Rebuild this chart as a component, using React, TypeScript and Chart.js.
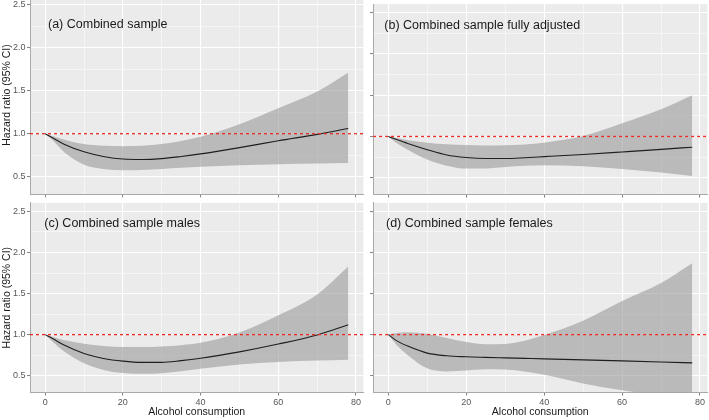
import React, { useEffect, useRef } from "react";
import { Chart, registerables } from "chart.js";

Chart.register(...registerables);

// ---------------- data ----------------
const alcoholConsumption = [0, 2, 5, 10, 15, 20, 25, 30, 35, 40, 50, 60, 70, 78];

const panelTitles = [
  "(a) Combined sample",
  "(b) Combined sample fully adjusted",
  "(c) Combined sample males",
  "(d) Combined sample females",
];

const hrCombined = [1.0, 0.95, 0.875, 0.79, 0.735, 0.705, 0.7, 0.71, 0.735, 0.765, 0.838, 0.918, 0.992, 1.06];
const lowerCombined = [1.0, 0.92, 0.78, 0.64, 0.59, 0.575, 0.578, 0.59, 0.603, 0.615, 0.632, 0.645, 0.654, 0.66];
const upperCombined = [1.0, 0.97, 0.93, 0.88, 0.86, 0.855, 0.86, 0.88, 0.915, 0.965, 1.11, 1.295, 1.49, 1.71];

const hrAdjusted = [1.0, 0.965, 0.915, 0.84, 0.775, 0.745, 0.733, 0.733, 0.742, 0.755, 0.782, 0.812, 0.843, 0.87];
const lowerAdjusted = [1.0, 0.925, 0.84, 0.72, 0.645, 0.61, 0.612, 0.63, 0.645, 0.652, 0.64, 0.605, 0.562, 0.52];
const upperAdjusted = [1.0, 0.98, 0.955, 0.925, 0.905, 0.895, 0.89, 0.893, 0.903, 0.925, 1.005, 1.16, 1.33, 1.5];

const hrMales = [1.0, 0.95, 0.87, 0.77, 0.71, 0.677, 0.662, 0.662, 0.683, 0.712, 0.79, 0.885, 0.995, 1.12];
const lowerMales = [1.0, 0.91, 0.79, 0.65, 0.57, 0.532, 0.522, 0.53, 0.553, 0.585, 0.637, 0.668, 0.685, 0.695];
const upperMales = [1.0, 0.97, 0.93, 0.89, 0.862, 0.85, 0.848, 0.855, 0.872, 0.9, 1.025, 1.235, 1.49, 1.83];

const hrFemales = [1.0, 0.93, 0.86, 0.775, 0.742, 0.73, 0.723, 0.717, 0.711, 0.705, 0.692, 0.68, 0.667, 0.656];
const lowerFemales = [1.0, 0.88, 0.75, 0.59, 0.552, 0.563, 0.577, 0.574, 0.552, 0.51, 0.405, 0.322, 0.262, 0.22];
const upperFemales = [1.0, 1.02, 1.03, 1.012, 0.96, 0.91, 0.882, 0.886, 0.925, 0.995, 1.17, 1.41, 1.63, 1.87];

const referenceHR = 1;

const xGridValues = [0, 10, 20, 30, 40, 50, 60, 70, 80];
const xTickLabels = [0, 20, 40, 60, 80];
const yGridValues = [0.5, 0.75, 1, 1.25, 1.5, 1.75, 2, 2.25, 2.5];
const yTickLabels = [0.5, 1, 1.5, 2, 2.5];

const xAxisTitle = "Alcohol consumption";
const yAxisTitle = "Hazard ratio (95% CI)";

const X_MIN = -3.9;
const X_MAX = 81.9;
const Y_MIN = 0.295;
const Y_MAX = 2.605;

// ---------------- layout / style ----------------
const FONT = "'Liberation Sans', Arial, Helvetica, sans-serif";

type Rect = { x: number; y: number; w: number; h: number };
type Area = { l: number; t: number; r: number; b: number };

interface PanelSpec {
  titleIndex: number;
  hr: number[];
  lo: number[];
  hi: number[];
  canvas: Rect;
  area: Area;
  showYLabels: boolean;
  showXLabels: boolean;
  titleOffset: { dx: number; dy: number };
}

const PANELS: PanelSpec[] = [
  {
    titleIndex: 0, hr: hrCombined, lo: lowerCombined, hi: upperCombined,
    canvas: { x: 0, y: -6, w: 366, h: 206 },
    area: { l: 30, t: -4.3, r: 363.4, b: 194.3 },
    showYLabels: true, showXLabels: false,
    titleOffset: { dx: 18, dy: 29.3 },
  },
  {
    titleIndex: 1, hr: hrAdjusted, lo: lowerAdjusted, hi: upperAdjusted,
    canvas: { x: 355, y: 0, w: 354, h: 200 },
    area: { l: 373.1, t: 4.1, r: 707.4, b: 194.6 },
    showYLabels: false, showXLabels: false,
    titleOffset: { dx: 11.2, dy: 21.6 },
  },
  {
    titleIndex: 2, hr: hrMales, lo: lowerMales, hi: upperMales,
    canvas: { x: 0, y: 198, w: 366, h: 222 },
    area: { l: 30, t: 202.85, r: 363.4, b: 392.5 },
    showYLabels: true, showXLabels: true,
    titleOffset: { dx: 14.3, dy: 21.1 },
  },
  {
    titleIndex: 3, hr: hrFemales, lo: lowerFemales, hi: upperFemales,
    canvas: { x: 355, y: 198, w: 354, h: 222 },
    area: { l: 373.1, t: 202.85, r: 707.4, b: 392.5 },
    showYLabels: false, showXLabels: true,
    titleOffset: { dx: 12.9, dy: 20.4 },
  },
];

const panelBackground = {
  id: "panelBackground",
  beforeDraw(chart: any) {
    const { ctx, chartArea } = chart;
    if (!chartArea) return;
    ctx.save();
    ctx.fillStyle = "#EBEBEB";
    ctx.fillRect(chartArea.left, chartArea.top, chartArea.right - chartArea.left, chartArea.bottom - chartArea.top);
    ctx.restore();
  },
};

const panelLabel = {
  id: "panelLabel",
  afterDraw(chart: any, _args: any, opts: any) {
    const { ctx, chartArea } = chart;
    if (!chartArea || !opts || !opts.text) return;
    ctx.save();
    ctx.font = `12.5px ${FONT}`;
    ctx.fillStyle = "#1A1A1A";
    ctx.textAlign = "left";
    ctx.textBaseline = "middle";
    ctx.fillText(opts.text, chartArea.left + opts.dx, chartArea.top + opts.dy);
    ctx.restore();
  },
};

function makeConfig(p: PanelSpec): any {
  const yW = p.area.l - p.canvas.x;
  const xH = p.canvas.y + p.canvas.h - p.area.b;
  const padTop = p.area.t - p.canvas.y;
  const padRight = p.canvas.x + p.canvas.w - p.area.r;
  const pts = (ys: number[]) => alcoholConsumption.map((x, i) => ({ x, y: ys[i] }));
  const zeroPad = (s: any) => {
    s.paddingLeft = 0;
    s.paddingRight = 0;
    s.paddingTop = 0;
    s.paddingBottom = 0;
  };

  return {
    type: "line",
    data: {
      datasets: [
        {
          data: [{ x: X_MIN, y: referenceHR }, { x: X_MAX, y: referenceHR }],
          borderColor: "#EE2A22",
          borderWidth: 1.3,
          borderDash: [3, 3],
          pointRadius: 0,
          fill: false,
          order: 0,
        },
        {
          data: pts(p.hr),
          borderColor: "#1E1E1E",
          borderWidth: 1.1,
          pointRadius: 0,
          cubicInterpolationMode: "monotone",
          fill: false,
          order: 1,
        },
        {
          data: pts(p.lo),
          borderColor: "rgba(0,0,0,0)",
          borderWidth: 0,
          pointRadius: 0,
          cubicInterpolationMode: "monotone",
          fill: false,
          order: 2,
        },
        {
          data: pts(p.hi),
          borderColor: "rgba(0,0,0,0)",
          borderWidth: 0,
          backgroundColor: "rgba(150,150,150,0.58)",
          pointRadius: 0,
          cubicInterpolationMode: "monotone",
          fill: "-1",
          order: 3,
        },
      ],
    },
    options: {
      responsive: false,
      animation: false,
      events: [],
      layout: { padding: { top: padTop, right: padRight, left: 0, bottom: 0 } },
      plugins: {
        legend: { display: false },
        tooltip: { enabled: false },
        panelLabel: { text: panelTitles[p.titleIndex], dx: p.titleOffset.dx, dy: p.titleOffset.dy },
      },
      scales: {
        x: {
          type: "linear",
          min: X_MIN,
          max: X_MAX,
          afterBuildTicks: (s: any) => {
            s.ticks = xGridValues.map((v) => ({ value: v }));
          },
          afterFit: (s: any) => {
            s.height = xH;
            zeroPad(s);
          },
          grid: {
            color: "#FFFFFF",
            lineWidth: (c: any) => (c.tick && xTickLabels.includes(c.tick.value) ? 1.1 : 0.5),
            drawTicks: true,
            tickLength: 3,
            tickWidth: 1,
            tickColor: (c: any) => (c.tick && xTickLabels.includes(c.tick.value) ? "#7F7F7F" : "rgba(0,0,0,0)"),
          },
          border: { display: true, color: "#A9A9A9", width: 1 },
          ticks: {
            autoSkip: false,
            maxRotation: 0,
            minRotation: 0,
            padding: 2,
            color: "#575757",
            font: { family: FONT, size: 9 },
            callback: (v: any) => (p.showXLabels && xTickLabels.includes(v) ? String(v) : ""),
          },
          title: {
            display: p.showXLabels,
            text: xAxisTitle,
            color: "#1A1A1A",
            font: { family: FONT, size: 10.5 },
            padding: { top: 0, bottom: 2 },
          },
        },
        y: {
          type: "linear",
          min: Y_MIN,
          max: Y_MAX,
          afterBuildTicks: (s: any) => {
            s.ticks = yGridValues.map((v) => ({ value: v }));
          },
          afterFit: (s: any) => {
            s.width = yW;
            zeroPad(s);
          },
          grid: {
            color: "#FFFFFF",
            lineWidth: (c: any) => (c.tick && yTickLabels.includes(c.tick.value) ? 1.1 : 0.5),
            drawTicks: true,
            tickLength: 3,
            tickWidth: 1,
            tickColor: (c: any) => (c.tick && yTickLabels.includes(c.tick.value) ? "#7F7F7F" : "rgba(0,0,0,0)"),
          },
          border: { display: true, color: "#A9A9A9", width: 1 },
          ticks: {
            autoSkip: false,
            padding: 1.5,
            color: "#575757",
            font: { family: FONT, size: 9 },
            callback: (v: any) => (p.showYLabels && yTickLabels.includes(v) ? Number(v).toFixed(1) : ""),
          },
          title: {
            display: p.showYLabels,
            text: yAxisTitle,
            color: "#1A1A1A",
            font: { family: FONT, size: 10.5 },
            padding: { top: 1, bottom: 0 },
          },
        },
      },
    },
    plugins: [panelBackground, panelLabel],
  };
}

function Panel({ spec }: { spec: PanelSpec }) {
  const ref = useRef<HTMLCanvasElement | null>(null);
  useEffect(() => {
    if (!ref.current) return;
    const chart = new Chart(ref.current, makeConfig(spec));
    return () => chart.destroy();
  }, [spec]);
  return (
    <canvas
      ref={ref}
      width={spec.canvas.w}
      height={spec.canvas.h}
      style={{
        position: "absolute",
        left: spec.canvas.x,
        top: spec.canvas.y,
        width: spec.canvas.w,
        height: spec.canvas.h,
      }}
    />
  );
}

export default function App() {
  return (
    <div
      style={{
        position: "fixed",
        left: 0,
        top: 0,
        width: 709,
        height: 420,
        overflow: "hidden",
        background: "#FFFFFF",
      }}
    >
      {PANELS.map((p) => (
        <Panel key={p.titleIndex} spec={p} />
      ))}
    </div>
  );
}
